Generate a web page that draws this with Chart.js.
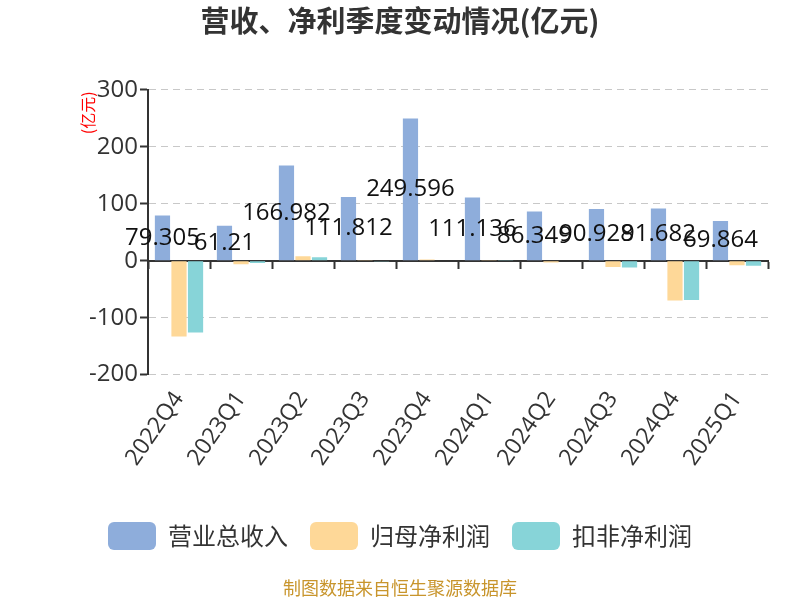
<!DOCTYPE html>
<html lang="zh">
<head>
  <meta charset="UTF-8" />
  <title>营收、净利季度变动情况</title>
  <script src="https://cdn.jsdelivr.net/npm/chart.js"></script>
  <style>
    html, body {
      margin: 0;
      padding: 0;
      background: #ffffff;
    }
    #wrap {
      width: 800px;
      height: 600px;
    }
  </style>
</head>
<body>
  <div id="wrap"><canvas id="chart"></canvas></div>

  <script>
    const quarters = ['2022Q4', '2023Q1', '2023Q2', '2023Q3', '2023Q4', '2024Q1', '2024Q2', '2024Q3', '2024Q4', '2025Q1'];
    const revenue = [79.305, 61.21, 166.982, 111.812, 249.596, 111.136, 86.349, 90.928, 91.682, 69.864];
    const netProfit = [-133, -6, 8, 0.5, 2, 0.5, -3, -11, -70, -8];
    const deductedProfit = [-126, -4, 6, -0.3, 1, 0.3, -1, -12, -69, -9];
    const yTicks = [-200, -100, 0, 100, 200, 300];

    const FONT = "'Open Sans', 'Noto Sans CJK SC', sans-serif";
    const CJK = "'Noto Sans CJK SC', sans-serif";

    // 营业总收入柱中间的数值
    const valueLabels = {
      id: 'valueLabels',
      afterDatasetsDraw(chart) {
        const c = chart.ctx;
        const meta = chart.getDatasetMeta(0);
        c.save();
        c.font = '24px ' + FONT;
        c.fillStyle = '#111';
        c.textAlign = 'center';
        c.textBaseline = 'middle';
        meta.data.forEach((bar, i) => {
          c.fillText(String(revenue[i]), bar.x, (bar.y + bar.base) / 2);
        });
        c.restore();
      }
    };

    // 单位 + 底部来源
    const extras = {
      id: 'extras',
      afterDraw(chart) {
        const c = chart.ctx;
        const y = chart.scales.y;
        c.save();
        c.translate(y.right - 60, chart.chartArea.top + 23);
        c.rotate(-Math.PI / 2);
        c.font = '16px ' + CJK;
        c.fillStyle = '#ff0000';
        c.textAlign = 'center';
        c.textBaseline = 'middle';
        c.fillText('(亿元)', 0, 0);
        c.restore();

        c.save();
        c.font = '18px ' + CJK;
        c.fillStyle = '#c8952c';
        c.textAlign = 'center';
        c.textBaseline = 'middle';
        c.fillText('制图数据来自恒生聚源数据库', chart.width / 2, chart.height - 12);
        c.restore();
      }
    };

    new Chart(document.getElementById('chart'), {
      type: 'bar',
      data: {
        labels: quarters,
        datasets: [
          { label: '营业总收入', data: revenue, backgroundColor: '#8eaddb' },
          { label: '归母净利润', data: netProfit, backgroundColor: '#fed898' },
          { label: '扣非净利润', data: deductedProfit, backgroundColor: '#87d4d8' }
        ]
      },
      options: {
        responsive: true,
        maintainAspectRatio: false,
        animation: false,
        categoryPercentage: 0.8,
        barPercentage: 0.92,
        layout: { padding: { left: 0, right: 0, top: 0, bottom: 40 } },
        plugins: {
          title: {
            display: true,
            text: '营收、净利季度变动情况(亿元)',
            color: '#333',
            font: { family: CJK, size: 29, weight: 'bold' },
            padding: { top: 4, bottom: 51 }
          },
          legend: {
            position: 'bottom',
            labels: {
              color: '#333',
              font: { family: CJK, size: 24 },
              boxWidth: 48,
              boxHeight: 28,
              useBorderRadius: true,
              borderRadius: 6,
              padding: 22
            }
          },
          tooltip: { enabled: false }
        },
        scales: {
          x: {
            position: { y: 0 },
            offset: true,
            grid: {
              display: true,
              drawOnChartArea: false,
              drawTicks: true,
              tickLength: 7,
              tickColor: '#333',
              tickWidth: 2,
              offset: true
            },
            border: { display: true, color: '#333', width: 2 },
            ticks: { display: false }
          },
          x2: {
            type: 'category',
            labels: quarters,
            position: 'bottom',
            offset: true,
            grid: { display: false },
            border: { display: false },
            afterFit(scale) {
              scale.height += 25;
            },
            ticks: {
              color: '#333',
              font: { family: FONT, size: 23 },
              minRotation: 55,
              maxRotation: 55,
              padding: 4
            }
          },
          y: {
            min: -200,
            max: 300,
            afterBuildTicks(scale) {
              scale.ticks = yTicks.map(v => ({ value: v }));
            },
            afterFit(scale) {
              scale.width = 148;
            },
            grid: {
              color: '#c8c8c8',
              tickLength: 8,
              tickColor: '#333',
              tickWidth: 2
            },
            border: { display: true, color: '#333', width: 2, dash: [7, 5] },
            ticks: {
              color: '#333',
              font: { family: FONT, size: 24 },
              padding: 2
            }
          },
          yRight: {
            position: 'right',
            grid: { display: false },
            border: { display: false },
            ticks: { display: false },
            afterFit(scale) {
              scale.width = 32;
            }
          }
        }
      },
      plugins: [valueLabels, extras]
    });
  </script>
</body>
</html>
